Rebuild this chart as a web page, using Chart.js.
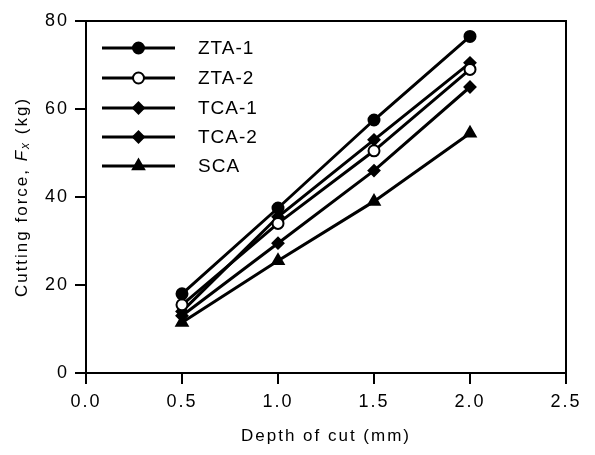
<!DOCTYPE html>
<html>
<head>
<meta charset="utf-8">
<script src="https://cdn.jsdelivr.net/npm/chart.js@4"></script>
<style>
  html, body { margin: 0; padding: 0; background: #fff; }
  #wrap { width: 595px; height: 455px; }
</style>
</head>
<body>
<div id="wrap"><canvas id="forceChart" width="595" height="455"></canvas></div>
<script>
const depth = [0.5, 1.0, 1.5, 2.0];
const seriesNames = ['ZTA-1', 'ZTA-2', 'TCA-1', 'TCA-2', 'SCA'];
const zta1 = [18, 37.5, 57.5, 76.5];
const zta2 = [15.5, 34, 50.5, 69];
const tca1 = [14, 35.5, 53, 70.5];
const tca2 = [13, 29.5, 46, 65];
const sca = [11.5, 25.5, 39, 54.5];
const xTicks = [0.0, 0.5, 1.0, 1.5, 2.0, 2.5];
const yTicks = [0, 20, 40, 60, 80];

const values = [zta1, zta2, tca1, tca2, sca];
const markers = ['circle', 'circle', 'rectRot', 'rectRot', 'triangle'];
const fills = ['#000', '#fff', '#000', '#000', '#000'];
const fontFamily = '"Liberation Sans", Arial, sans-serif';

function toPoints(arr) {
    return depth.map((d, i) => ({ x: d, y: arr[i] }));
}

const datasets = seriesNames.map((name, i) => ({
    label: name,
    data: toPoints(values[i]),
    borderColor: '#000',
    backgroundColor: fills[i],
    borderWidth: 3,
    pointStyle: markers[i],
    pointRadius: markers[i] === 'triangle' ? 6.5 : 5.5,
    pointBorderWidth: 2,
    pointBackgroundColor: fills[i],
    pointBorderColor: '#000',
    tension: 0
}));

// the scanned figure has loosely spaced lettering
const spacing = {
    id: 'spacing',
    beforeDraw(chart) {
        chart.ctx.letterSpacing = '2px';
    }
};

// box round the plot area
const framePlugin = {
    id: 'frame',
    afterDraw(chart) {
        const { ctx, chartArea: a } = chart;
        ctx.save();
        ctx.strokeStyle = '#000';
        ctx.lineWidth = 2;
        ctx.strokeRect(a.left, a.top, a.right - a.left, a.bottom - a.top);
        ctx.restore();
    }
};

// y title with an italic F and subscript x
const yTitle = {
    id: 'yTitle',
    afterDraw(chart) {
        const { ctx, chartArea: a } = chart;
        const parts = [
            { t: 'Cutting force, ', f: '17px ' + fontFamily, dy: 0 },
            { t: 'F', f: 'italic 17px ' + fontFamily, dy: 0 },
            { t: 'x', f: 'italic 12px ' + fontFamily, dy: 4 },
            { t: ' (kg)', f: '17px ' + fontFamily, dy: 0 }
        ];
        ctx.save();
        ctx.letterSpacing = '2px';
        let total = 0;
        parts.forEach(p => { ctx.font = p.f; p.w = ctx.measureText(p.t).width; total += p.w; });
        ctx.translate(22, (a.top + a.bottom) / 2);
        ctx.rotate(-Math.PI / 2);
        ctx.fillStyle = '#000';
        ctx.textBaseline = 'middle';
        ctx.textAlign = 'left';
        let x = -total / 2;
        parts.forEach(p => {
            ctx.font = p.f;
            ctx.fillText(p.t, x, p.dy);
            x += p.w;
        });
        ctx.restore();
    }
};

// legend: line with the marker in its middle, label on the right
const lineLegend = {
    id: 'lineLegend',
    afterDraw(chart) {
        const ctx = chart.ctx;
        const x0 = 102, x1 = 175, tx = 198;
        const rows = [48, 78, 108, 137, 166];
        ctx.save();
        ctx.letterSpacing = '1px';
        chart.data.datasets.forEach((ds, i) => {
            const y = rows[i];
            ctx.strokeStyle = '#000';
            ctx.lineWidth = 3;
            ctx.beginPath();
            ctx.moveTo(x0, y);
            ctx.lineTo(x1, y);
            ctx.stroke();
            ctx.fillStyle = ds.pointBackgroundColor;
            ctx.lineWidth = 2;
            Chart.helpers.drawPoint(ctx, {
                pointStyle: ds.pointStyle,
                radius: ds.pointRadius,
                rotation: 0,
                borderWidth: 2
            }, (x0 + x1) / 2, y);
            ctx.fillStyle = '#000';
            ctx.font = '19px ' + fontFamily;
            ctx.textBaseline = 'middle';
            ctx.textAlign = 'left';
            ctx.fillText(ds.label, tx, y + 1);
        });
        ctx.restore();
    }
};

const tickFont = { family: fontFamily, size: 18 };

new Chart(document.getElementById('forceChart').getContext('2d'), {
    type: 'line',
    data: { datasets: datasets },
    options: {
        responsive: false,
        animation: false,
        layout: { padding: { left: 4, right: 29, top: 21, bottom: 4 } },
        plugins: {
            legend: { display: false },
            tooltip: { enabled: false }
        },
        scales: {
            x: {
                type: 'linear',
                min: 0,
                max: 2.5,
                afterBuildTicks: axis => { axis.ticks = xTicks.map(v => ({ value: v })); },
                afterFit: axis => { axis.height = 78; },
                ticks: {
                    color: '#000',
                    font: tickFont,
                    padding: 7,
                    maxRotation: 0,
                    callback: v => Number(v).toFixed(1)
                },
                grid: { drawOnChartArea: false, drawTicks: true, tickLength: 11, color: '#000', lineWidth: 2 },
                border: { color: '#000', width: 2 },
                title: {
                    display: true,
                    text: 'Depth of cut (mm)',
                    color: '#000',
                    font: { family: fontFamily, size: 17 },
                    padding: { top: 13 }
                }
            },
            y: {
                min: 0,
                max: 80,
                afterBuildTicks: axis => { axis.ticks = yTicks.map(v => ({ value: v })); },
                afterFit: axis => { axis.width = 82; },
                ticks: { color: '#000', font: tickFont, padding: 6 },
                grid: { drawOnChartArea: false, drawTicks: true, tickLength: 11, color: '#000', lineWidth: 2 },
                border: { color: '#000', width: 2 },
                title: { display: false }
            }
        }
    },
    plugins: [spacing, framePlugin, yTitle, lineLegend]
});
</script>
</body>
</html>
